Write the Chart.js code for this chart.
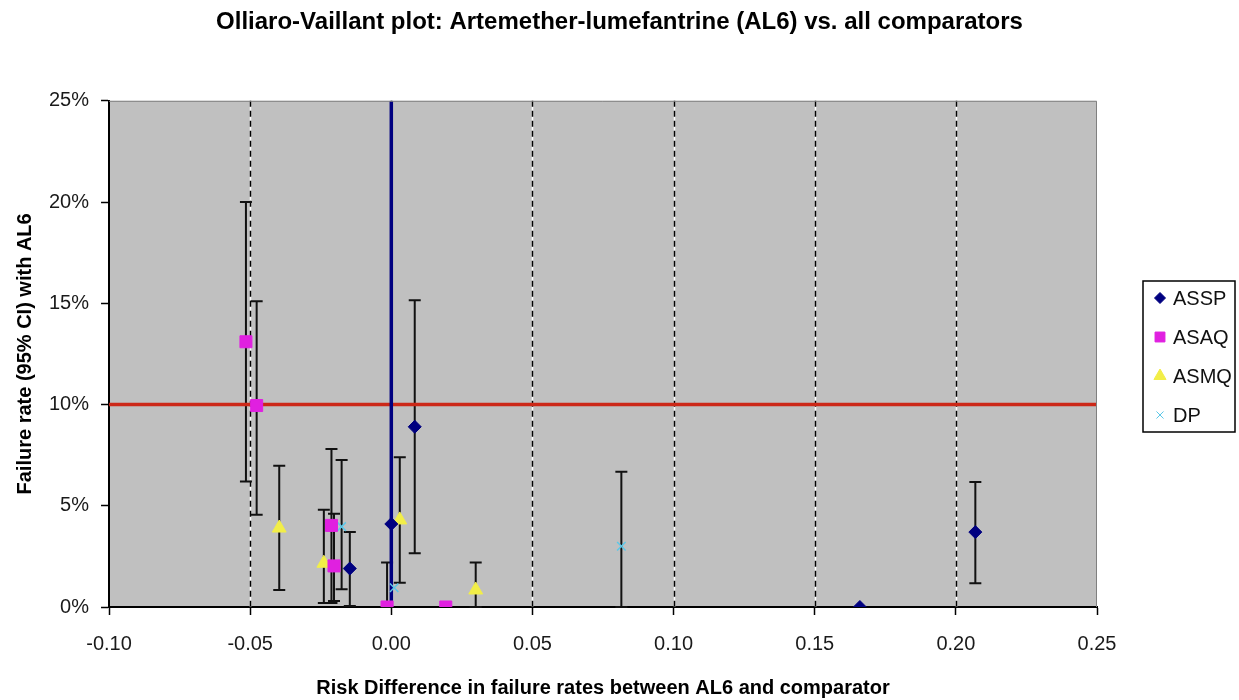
<!DOCTYPE html>
<html>
<head>
<meta charset="utf-8">
<title>Olliaro-Vaillant plot</title>
<script src="https://cdn.jsdelivr.net/npm/chart.js@4.4.0/dist/chart.umd.min.js"></script>
<style>
  html, body { margin: 0; padding: 0; background: #fff; }
</style>
</head>
<body>
<canvas id="ovPlot" width="1239" height="700"></canvas>
<script>
// risk difference (x) and failure rate in % (y), with 95% CI bounds per comparator
const asspX  = [-0.0147, 0.0, 0.0083, 0.166, 0.2069];
const asspY  = [1.9, 4.1, 8.9, 0.0, 3.7];
const asspLo = [0.05, null, 2.65, null, 1.17];
const asspHi = [3.7, null, 15.15, null, 6.17];

const asaqX  = [-0.0515, -0.0477, -0.0212, -0.0203, -0.0015, 0.0193];
const asaqY  = [13.1, 9.95, 4.03, 2.03, 0.0, 0.0];
const asaqLo = [6.2, 4.55, 0.2, 0.3, 0.0, null];
const asaqHi = [20.0, 15.1, 7.8, 4.6, 2.2, null];

const asmqX  = [-0.0397, -0.0239, 0.003, 0.0299];
const asmqY  = [3.9, 2.16, 4.3, 0.84];
const asmqLo = [0.84, 0.2, 1.2, 0.0];
const asmqHi = [6.98, 4.8, 7.4, 2.2];

const dpX  = [-0.0176, 0.001, 0.0815];
const dpY  = [3.97, 0.95, 3.0];
const dpLo = [0.88, null, 0.0];
const dpHi = [7.26, null, 6.68];

const seriesNames = ['ASSP', 'ASAQ', 'ASMQ', 'DP'];

// axis ranges and reference lines
const xMin = -0.10, xMax = 0.25, xStep = 0.05;
const yMin = 0, yMax = 25, yStep = 5;
const thresholdPct = 10;   // 10% failure threshold
const zeroDiff = 0;        // no difference line

const SANS = "'Liberation Sans', Arial, sans-serif";
const LEGEND_SPACE = 142;  // room kept right of the plot for the legend box

function pts(xs, ys) {
  return xs.map((v, i) => ({ x: v, y: ys[i] }));
}

// grey plot area and the black/white dashed verticals at each inner x tick
const plotBackground = {
  id: 'plotBackground',
  beforeDatasetsDraw(chart) {
    const { ctx, chartArea: a, scales } = chart;
    const ticks = scales.x.ticks;
    ctx.save();
    ctx.lineWidth = 1.5;
    ticks.forEach((t, i) => {
      if (i === 0 || i === ticks.length - 1) return;
      const px = Math.round(scales.x.getPixelForValue(t.value)) + 0.5;
      ctx.setLineDash([]);
      ctx.strokeStyle = '#ffffff';
      ctx.beginPath();
      ctx.moveTo(px, a.top);
      ctx.lineTo(px, a.bottom);
      ctx.stroke();
      ctx.setLineDash([6, 4]);
      ctx.strokeStyle = '#000000';
      ctx.beginPath();
      ctx.moveTo(px, a.top);
      ctx.lineTo(px, a.bottom);
      ctx.stroke();
    });
    ctx.restore();
  },
  beforeDraw(chart) {
    const { ctx, chartArea: a } = chart;
    ctx.save();
    ctx.fillStyle = '#c0c0c0';
    ctx.fillRect(a.left, a.top, a.right - a.left, a.bottom - a.top);
    ctx.restore();
  },
  afterDatasetsDraw(chart) {
    const { ctx, chartArea: a } = chart;
    ctx.save();
    ctx.strokeStyle = '#808080';
    ctx.lineWidth = 1;
    ctx.beginPath();
    ctx.moveTo(a.left, a.top + 0.5);
    ctx.lineTo(a.right - 0.5, a.top + 0.5);
    ctx.lineTo(a.right - 0.5, a.bottom);
    ctx.stroke();
    ctx.restore();
  }
};

// vertical CI whiskers with caps, beneath the markers
const errorBars = {
  id: 'errorBars',
  beforeDatasetsDraw(chart) {
    const { ctx } = chart;
    const xs = chart.scales.x, ys = chart.scales.y;
    ctx.save();
    ctx.strokeStyle = '#111';
    ctx.lineWidth = 2;
    chart.data.datasets.forEach(ds => {
      if (!ds.lo) return;
      ds.data.forEach((p, i) => {
        if (ds.lo[i] == null) return;
        const px = xs.getPixelForValue(p.x);
        const top = ys.getPixelForValue(ds.hi[i]);
        const bot = ys.getPixelForValue(ds.lo[i]);
        ctx.beginPath();
        ctx.moveTo(px, top); ctx.lineTo(px, bot);
        ctx.moveTo(px - 6, top); ctx.lineTo(px + 6, top);
        ctx.moveTo(px - 6, bot); ctx.lineTo(px + 6, bot);
        ctx.stroke();
      });
    });
    ctx.restore();
  }
};

// boxed legend to the right of the plot
const boxedLegend = {
  id: 'boxedLegend',
  afterDraw(chart) {
    const { ctx, chartArea: a } = chart;
    const left = a.right + 46, top = 281, w = 92, h = 151;
    ctx.save();
    ctx.fillStyle = '#fff';
    ctx.fillRect(left, top, w, h);
    ctx.strokeStyle = '#000';
    ctx.lineWidth = 1.5;
    ctx.strokeRect(left, top, w, h);
    ctx.font = '20px ' + SANS;
    ctx.textBaseline = 'middle';
    chart.data.datasets.filter(d => seriesNames.includes(d.label)).forEach((d, i) => {
      const y = top + 17 + i * 39;
      ctx.fillStyle = d.backgroundColor;
      ctx.strokeStyle = d.borderColor;
      ctx.lineWidth = 1;
      Chart.helpers.drawPoint(ctx, {
        pointStyle: d.pointStyle,
        radius: d.legendRadius,
        rotation: 0,
        borderWidth: d.pointStyle === 'crossRot' ? 1.5 : 1
      }, left + 17, y);
      ctx.fillStyle = '#111';
      ctx.fillText(d.label, left + 30, y + 1);
    });
    ctx.restore();
  }
};

const datasets = [
  {
    label: 'ASSP', data: pts(asspX, asspY), lo: asspLo, hi: asspHi,
    pointStyle: 'rectRot', pointRadius: 6.5, legendRadius: 5.5,
    backgroundColor: '#000080', borderColor: '#000080', borderWidth: 1, order: 1
  },
  {
    label: 'ASAQ', data: pts(asaqX, asaqY), lo: asaqLo, hi: asaqHi,
    pointStyle: 'rect', pointRadius: 8.5, legendRadius: 7,
    backgroundColor: '#e020e0', borderColor: '#e020e0', borderWidth: 1, order: 1
  },
  {
    label: 'ASMQ', data: pts(asmqX, asmqY), lo: asmqLo, hi: asmqHi,
    pointStyle: 'triangle', pointRadius: 8, legendRadius: 7,
    backgroundColor: '#f2ee48', borderColor: '#f2ee48', borderWidth: 1, order: 1
  },
  {
    label: 'DP', data: pts(dpX, dpY), lo: dpLo, hi: dpHi,
    pointStyle: 'crossRot', pointRadius: 6, legendRadius: 5,
    backgroundColor: '#5cc8e8', borderColor: '#5cc8e8', borderWidth: 1.5, order: 1
  },
  {
    label: 'threshold', data: [{ x: xMin, y: thresholdPct }, { x: xMax, y: thresholdPct }],
    showLine: true, borderColor: '#cc2818', borderWidth: 3.5, pointRadius: 0, order: 3
  },
  {
    label: 'no difference', data: [{ x: zeroDiff, y: yMin }, { x: zeroDiff, y: yMax }],
    showLine: true, borderColor: '#000080', borderWidth: 3.5, pointRadius: 0, order: 2
  }
];

new Chart(document.getElementById('ovPlot'), {
  type: 'scatter',
  data: { datasets },
  plugins: [plotBackground, errorBars, boxedLegend],
  options: {
    responsive: false,
    animation: false,
    events: [],
    layout: { padding: 0 },
    plugins: {
      legend: { display: false },
      tooltip: { enabled: false },
      title: {
        display: true,
        text: 'Olliaro-Vaillant plot: Artemether-lumefantrine (AL6) vs. all comparators',
        color: '#000',
        font: { family: SANS, size: 24, weight: 'bold' },
        padding: { top: 8, bottom: 64 }
      }
    },
    scales: {
      x: {
        type: 'linear',
        min: xMin, max: xMax,
        afterFit: scale => { scale.paddingRight = Math.max(scale.paddingRight, LEGEND_SPACE); },
        ticks: {
          stepSize: xStep,
          color: '#1a1a1a',
          font: { family: SANS, size: 20 },
          padding: 17,
          maxRotation: 0,
          callback: v => (Math.abs(v) < 1e-9 ? 0 : v).toFixed(2)
        },
        grid: {
          drawOnChartArea: false,
          tickColor: '#000',
          tickLength: 8,
          tickWidth: 1.5
        },
        border: { color: '#000', width: 2 },
        title: {
          display: true,
          text: 'Risk Difference in failure rates between AL6 and comparator',
          color: '#000',
          font: { family: SANS, size: 20, weight: 'bold' },
          padding: { top: 3, bottom: 0 }
        }
      },
      y: {
        min: yMin, max: yMax,
        ticks: {
          stepSize: yStep,
          color: '#1a1a1a',
          font: { family: SANS, size: 20 },
          padding: 12,
          callback: v => v + '%'
        },
        grid: {
          drawOnChartArea: false,
          tickColor: '#000',
          tickLength: 8,
          tickWidth: 1.5
        },
        border: { color: '#000', width: 2 },
        title: {
          display: true,
          text: 'Failure rate (95% CI) with AL6',
          color: '#000',
          font: { family: SANS, size: 20, weight: 'bold' },
          padding: { top: 13, bottom: 0 }
        }
      }
    }
  }
});
</script>
</body>
</html>
